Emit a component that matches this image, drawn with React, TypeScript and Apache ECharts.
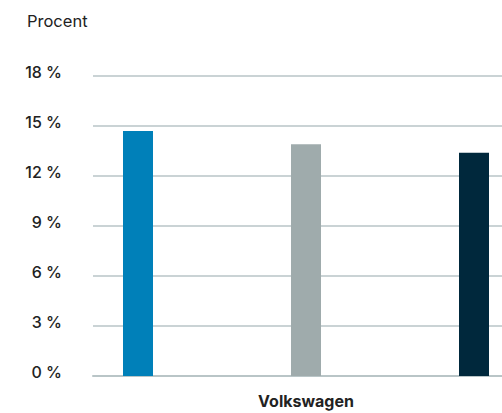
import React, { useEffect, useRef } from "react";
import * as echarts from "echarts";

const categories = ["Volkswagen"];
const seriesNames = ["Serie 1", "Serie 2", "Serie 3"];
const seriesValues = [[14.7], [13.9], [13.4]];
const seriesColors = ["#0080b9", "#9fabac", "#00283c"];
const yTicks = { min: 0, max: 18, interval: 3 };

const FONT = "Inter, 'Noto Sans', sans-serif";

export default function App() {
  const ref = useRef<HTMLDivElement>(null);
  useEffect(() => {
    if (!ref.current) return;
    const chart = echarts.init(ref.current, undefined, { renderer: "svg" });
    chart.setOption({
      animation: false,
      title: {
        text: "Procent",
        left: 27,
        top: 12,
        padding: 0,
        textStyle: { fontFamily: FONT, fontSize: 16.5, fontWeight: "normal", color: "#222" },
      },
      grid: { left: 93, top: 76, width: 426, height: 300, containLabel: false },
      xAxis: {
        type: "category",
        data: categories,
        axisLine: { show: true, lineStyle: { color: "#b9c5c7", width: 2 } },
        axisTick: { show: false },
        axisLabel: {
          margin: 17,
          fontFamily: FONT,
          fontSize: 16,
          lineHeight: 16,
          fontWeight: "bold",
          color: "#222",
        },
      },
      yAxis: {
        type: "value",
        min: yTicks.min,
        max: yTicks.max,
        interval: yTicks.interval,
        axisLine: { show: false },
        axisTick: { show: false },
        splitLine: { lineStyle: { color: "#b9c5c7", width: 1.5 } },
        axisLabel: {
          margin: 31,
          formatter: "{value} %",
          fontFamily: FONT,
          fontSize: 16,
          fontWeight: 500,
          color: "#222",
          verticalAlign: "bottom",
          lineHeight: 8,
        },
      },
      series: seriesNames.map((name, i) => ({
        name,
        type: "bar",
        data: seriesValues[i],
        barWidth: 30,
        barGap: "460%",
        itemStyle: { color: seriesColors[i] },
      })),
    });
    return () => chart.dispose();
  }, []);
  return (
    <div
      style={{
        position: "absolute",
        left: 0,
        top: 0,
        width: 502,
        height: 413,
        overflow: "hidden",
        background: "#fff",
      }}
    >
      <div ref={ref} style={{ width: 540, height: 413 }} />
    </div>
  );
}
